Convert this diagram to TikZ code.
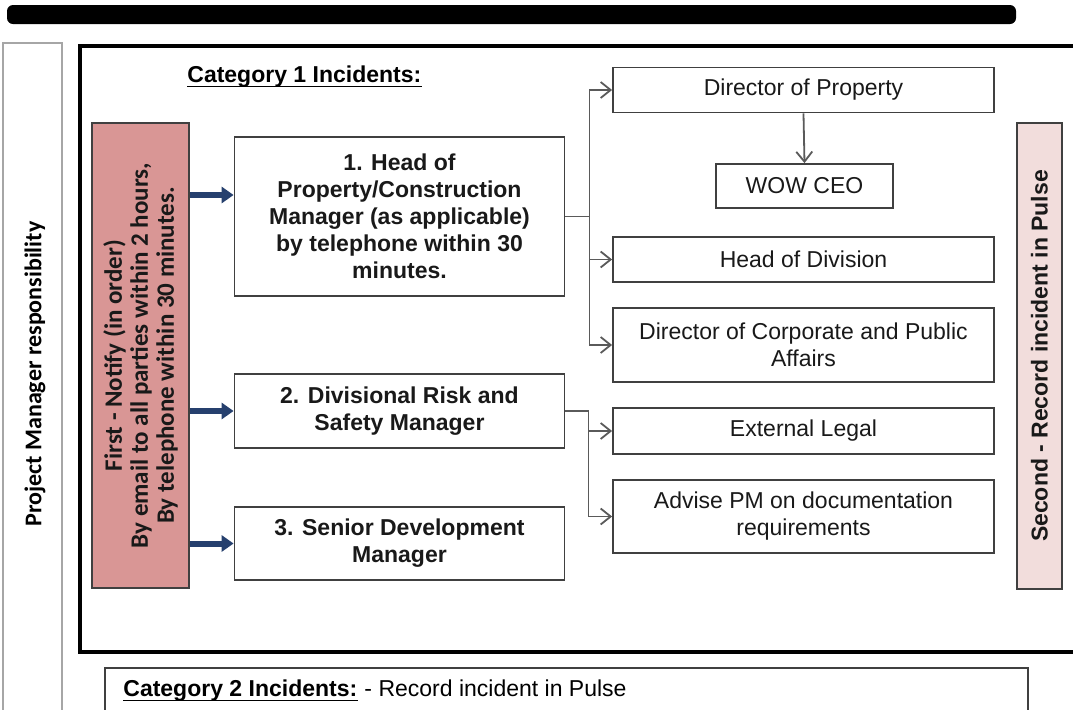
\documentclass[tikz,border=0pt]{standalone}
\usepackage{fontspec}
\setmainfont{Liberation Sans}
\newfontfamily\carlito{Carlito}
\usepackage{tikz}
\usetikzlibrary{arrows.meta}

\definecolor{notifyred}{RGB}{217,150,149}
\definecolor{recordpink}{RGB}{242,221,220}
\definecolor{arrowblue}{RGB}{38,64,110}
\definecolor{boxgray}{RGB}{64,64,64}
\definecolor{linkgray}{RGB}{90,90,90}

\begin{document}
\begin{tikzpicture}[x=0.5pt,y=-0.5pt,
  box/.style={draw=boxgray, line width=0.9pt, fill=white, align=center, inner sep=0pt, text=black!90},
  stage/.style={box, minimum width=165pt, font=\bfseries\fontsize{11.5}{13.5}\selectfont},
  party/.style={box, minimum width=190.5pt, font=\fontsize{11.5}{13.5}\selectfont},
  link/.style={draw=linkgray, line width=0.9pt, -{Straight Barb[length=5pt,width=8pt]}},
  push/.style={draw=arrowblue, line width=3pt, -{Triangle[length=6pt,width=8pt]}},
  heading/.style={anchor=west, inner sep=0pt, font=\bfseries\fontsize{11.5}{13.5}\selectfont}]

  \clip (0,0) rectangle (1073,709);
  \fill[white] (0,0) rectangle (1073,709);

  % title bar
  \fill[black, rounded corners=3pt] (7,5) rectangle (1016,24);

  % responsibility column
  \draw[gray!70, line width=1.2pt] (3,43) rectangle (62,730);
  \node[rotate=90, font=\carlito\bfseries\fontsize{12}{14}\selectfont] (pm) at (35,374) {Project Manager responsibility};

  % category 1 frame
  \draw[black, line width=1.6pt] (80,46) rectangle (1100,652);
  \node[heading] (cat1) at (187,77) {Category 1 Incidents:};
  \draw[line width=0.6pt] ([yshift=-1.8pt]cat1.base west) -- ([yshift=-1.8pt]cat1.base east);

  % first: notify
  \node[box, fill=notifyred, rotate=90, minimum width=232.5pt, minimum height=48.5pt,
    font=\carlito\bfseries\fontsize{12.5}{13}\selectfont] (notify) at (140.5,355.5)
    {First - Notify (in order)\\By email to all parties within 2 hours,\\By telephone within 30 minutes.};

  % stages
  \node[stage, minimum height=79.5pt] (s1) at (399.5,216.5)
    {1. Head of\\Property/Construction\\Manager (as applicable)\\by telephone within 30\\minutes.};
  \node[stage, minimum height=37pt] (s2) at (399.5,411) {2. Divisional Risk and\\Safety Manager};
  \node[stage, minimum height=36.5pt] (s3) at (399.5,543.5) {3. Senior Development\\Manager};

  % parties
  \node[party, minimum height=22.5pt] (dp) at (803.5,90) {Director of Property};
  \node[party, minimum width=88.5pt, minimum height=22pt] (ceo) at (804.5,186) {WOW CEO};
  \node[party, minimum height=22.5pt] (hd) at (803.5,259.5) {Head of Division};
  \node[party, minimum height=37pt] (dcpa) at (803.5,345) {Director of Corporate and Public\\Affairs};
  \node[party, minimum height=23pt] (el) at (803.5,431) {External Legal};
  \node[party, minimum height=36.5pt] (adv) at (803.5,516.5) {Advise PM on documentation\\requirements};

  % second: record
  \node[box, fill=recordpink, rotate=90, minimum width=233pt, minimum height=22.5pt,
    font=\bfseries\fontsize{11.5}{13.5}\selectfont] (rec) at (1039.5,356) {Second - Record incident in Pulse};

  % notify arrows
  \coordinate (a1) at ([yshift=10.75pt]s1.west);
  \draw[push] (notify.south |- a1) -- (a1);
  \draw[push] (notify.south |- s2.west) -- (s2.west);
  \draw[push] (notify.south |- s3.west) -- (s3.west);

  % links
  \coordinate (j1) at ([xshift=12pt]s1.east);
  \draw[link] (s1.east) -- (j1) |- (dp.west);
  \draw[link] (j1) |- (hd.west);
  \draw[link] (j1) |- (dcpa.west);
  \draw[link] (dp.south) -- (ceo.north);
  \coordinate (j2) at ([xshift=11.5pt]s2.east);
  \draw[link] (s2.east) -- (j2) |- (el.west);
  \draw[link] (j2) |- (adv.west);

  % category 2
  \draw[boxgray, line width=1pt] (105,668) rectangle (1028,730);
  \node[heading] (cat2) at (123,691) {Category 2 Incidents:};
  \draw[line width=0.6pt] ([yshift=-1.8pt]cat2.base west) -- ([yshift=-1.8pt]cat2.base east);
  \node[anchor=base west, inner sep=0pt, font=\fontsize{11.5}{13.5}\selectfont] (cat2note) at (cat2.base east) {\ - Record incident in Pulse};
\end{tikzpicture}
\end{document}
